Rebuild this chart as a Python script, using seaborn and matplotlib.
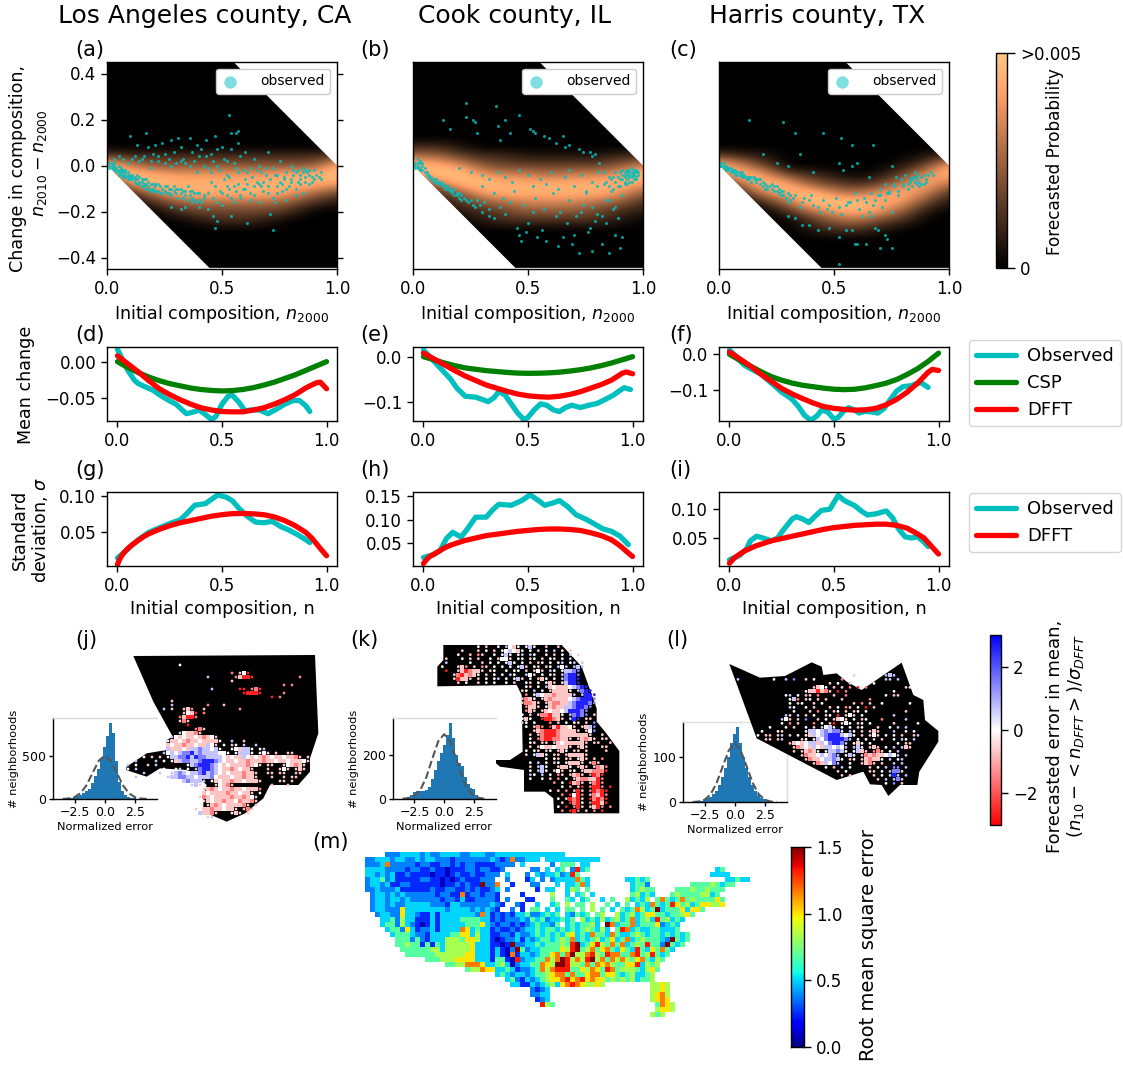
import numpy as np
import matplotlib
matplotlib.use('Agg')
import matplotlib.pyplot as plt
from matplotlib.cm import ScalarMappable
from matplotlib.colors import Normalize
from matplotlib.lines import Line2D
from matplotlib.patches import Polygon
import seaborn as sns

W, H = 1123, 1065

counties = ['Los Angeles county, CA', 'Cook county, IL', 'Harris county, TX']

# forecast density, digits 0-9 per column n = 0, 0.1 ... 1, rows from y = 0.08 going down in steps of 0.04
density_n = [0.0, 0.1, 0.2, 0.3, 0.4, 0.5, 0.6, 0.7, 0.8, 0.9, 1.0]
density_y = [.44, .40, .36, .32, .28, .24, .20, .16, .12, .08, .04, 0, -.04, -.08, -.12, -.16, -.20, -.24, -.28, -.32, -.36, -.40, -.44]
la_density = ['00000000000', '32222222223', '96444444448', '69877777889', '16988888887',
              '02588888753', '00245555421', '00023333200', '00001221000']
cook_density = ['22100000000', '55322111122', '98743333346', '69976656679', '25898888887',
                '02478888874', '01245666542', '00123444321', '00012222210']
harris_density = ['00000000000', '32100000012', '96300000138', '59732101378', '15984323685',
                  '02689657862', '00259998731', '00025787410', '00002453200', '00001221000']

# observed tracts, in percent
la_obs_x = [1, 2, 2, 3, 3, 4, 4, 5, 5, 6, 6, 7, 7, 8, 8, 9, 9, 10, 10, 11, 12, 12, 13, 14, 14, 15, 16, 16, 17, 18, 18, 19, 20, 20, 21, 22, 23, 24, 25, 26, 27, 28, 29, 30, 31, 32, 33, 34, 35, 36, 37, 38, 39, 40,
            10, 12, 13, 15, 17, 18, 19, 20, 21, 22, 24, 25, 27, 28, 29, 30, 31, 32, 33, 34, 36, 37, 38, 39, 40, 41, 42, 43, 43, 45, 45, 46, 47, 48, 49, 50, 51, 52, 53, 54, 54, 55, 56, 57, 57, 58, 59, 60, 62, 64, 66, 67, 70, 72, 75, 78, 80, 83, 85, 88, 90,
            28, 32, 34, 37, 40, 42, 44, 46, 47, 48, 50, 52, 53, 54, 55, 57, 58, 60, 61, 62, 64, 66, 68, 70, 71, 72, 73, 74, 76, 78, 80, 82, 84, 85, 86, 88, 90, 92,
            45, 47, 49, 51, 53, 55, 57, 59, 61, 63, 65, 67, 69, 71, 73, 75, 77, 79, 81, 83, 87, 89, 91, 93, 82, 84, 86]
la_obs_y = [0, -1, 1, -1, -2, -1, -3, -2, -4, -2, -4, -3, -5, -3, -5, -4, -6, -4, -6, -6, -5, -7, -6, -5, -8, -7, -6, -9, -8, -7, -9, -10, -8, -10, -9, -11, -9, -10, -11, -9, -12, -10, -11, -12, -10, -12, -11, -13, -9, -13, -11, -15, -12, -15,
            13, 4, 9, 3, 14, 8, 2, 5, 9, 2, 10, 5, 3, 11, 6, 1, 12, 8, 3, 1, 12, 6, 2, 9, 4, 7, 0, 4, 11, 5, -3, 2, 13, 7, -2, 8, 3, -4, 22, 7, 14, 1, 14, 15, 10, 4, -2, 6, -1, 3, 0, -3, 6, -1, 2, -3, 0, -2, -3, -4, -2,
            -18, -19, -18, -16, -18, -14, -19, -22, -27, -24, -17, -13, -10, -22, -16, -8, -14, -6, -25, -12, -9, -16, -7, -12, -21, -28, -16, -9, -11, -15, -7, -10, -6, -12, -5, -8, -6, -5,
            -7, -9, -11, -6, -5, -9, -3, -10, -8, -5, -7, -9, -4, -6, -4, -7, -5, -9, -4, -7, -3, -7, -4, -3, -3, -4, -2]
la_more = [(1, 1), (1, -1), (2, 0), (3, 0), (3, 1), (4, -2), (5, -3), (5, 0), (6, -3), (6, -1), (7, -4), (7, -2), (8, -4), (8, -2), (9, -3), (9, -5), (10, -5), (11, -5), (11, -4), (12, -6), (13, -8), (13, -4), (14, -7), (15, -6), (15, -9), (16, -8), (17, -6), (17, -10),
           (18, -10), (19, -8), (19, -11), (20, -11), (21, -11), (21, -8), (22, -8), (23, -12), (24, -12), (25, -9), (26, -12), (27, -10), (28, -13), (29, -9), (30, -10), (31, -14), (32, -10), (33, -14), (34, -11), (35, -15), (36, -11), (37, -14), (38, -12), (39, -16), (40, -12), (41, -16), (42, -13),
           (44, -12), (46, -14), (48, -16), (50, -12), (52, -9), (54, -14), (56, -11), (58, -13), (60, -10), (62, -15), (64, -13), (66, -8), (68, -11), (70, -9), (72, -14), (74, -12), (76, -8), (78, -10), (80, -6), (82, -13), (84, -8), (86, -7), (88, -2),
           (3, 3), (5, 4), (7, 3), (9, 1), (11, 3), (14, 2), (16, 4), (19, -1), (22, 4), (25, 1), (28, 0), (32, 2), (36, 0), (39, -3), (44, -1), (48, 0), (52, 2), (56, -1), (61, -3), (65, -2), (69, -1), (74, -4), (77, -6), (81, -2), (85, -1), (89, -5), (93, -6)]
cook_obs_x = [1, 1, 2, 2, 3, 3, 4, 5, 6, 7, 8, 9, 10, 11, 12, 13, 14, 15, 16, 17, 18, 19, 20, 21, 22, 24, 26, 28, 30, 33,
              13, 16, 23, 23, 26, 27, 28, 36, 37, 38, 40, 42, 46, 51, 52, 53, 57, 59, 62, 65, 66, 68, 72, 74, 77, 78, 79, 81,
              20, 25, 30, 33, 37, 40, 43, 46, 50, 52, 55, 58, 60, 63, 66, 68, 70, 73, 75, 78, 80, 83, 85,
              38, 40, 42, 45, 46, 47, 49, 50, 52, 54, 56, 58, 62, 63, 65, 67, 69, 70, 72, 73, 76, 78, 79, 82, 84, 85, 88, 90, 91,
              75, 78, 80, 82, 84, 85, 86, 87, 88, 89, 90, 91, 92, 92, 93, 93, 94, 94, 95, 95, 96, 96, 97, 97, 98]
cook_obs_y = [1, -1, 3, 0, 2, -1, 0, -3, -3, -4, -6, -7, -6, -7, -8, -9, -9, -10, -10, -11, -10, -13, -14, -15, -14, -16, -17, -15, -20, -19,
              20, 16, 27, 21, 20, 19, 14, 26, 17, 11, 20, 14, 22, 16, 15, 14, 13, 12, 10, 13, 8, 9, 7, 6, 6, 4, 5, 1,
              -1, -3, -4, -6, -3, -5, -7, -2, -4, -9, -6, -8, -3, -10, -5, -2, -9, -4, -11, -7, -3, -8, -5,
              -18, -21, -16, -27, -30, -33, -29, -25, -20, -31, -28, -33, -22, -35, -31, -25, -34, -30, -38, -20, -29, -37, -24, -34, -15, -38, -30, -36, -31,
              -12, -18, -9, -22, -7, -15, -11, -5, -18, -9, -6, -13, -4, -8, -3, -6, -2, -5, -3, -7, -4, -2, -6, -3, -4]
cook_more = [(1, 0), (2, 1), (2, -1), (3, 1), (3, -2), (4, -2), (4, 1), (5, -1), (6, -4), (7, -5), (8, -5), (9, -6), (10, -7), (11, -8), (12, -7), (13, -8), (14, -10), (15, -9), (16, -11), (17, -12), (18, -13), (19, -12), (20, -12), (21, -13), (23, -15), (25, -15), (27, -18), (29, -17), (31, -16), (33, -22), (35, -23),
             (30, -9), (35, -12), (39, -14), (44, -11), (48, -17), (53, -14), (57, -19), (61, -12), (64, -20), (68, -15), (71, -22), (74, -17), (77, -27), (80, -21), (84, -25), (87, -19), (89, -23),
             (83, -3), (85, -9), (86, -6), (87, -10), (88, -7), (88, -3), (89, -5), (90, -9), (90, -3), (91, -6), (91, -2), (92, -7), (92, -5), (93, -2), (93, -8), (94, -4), (94, -7), (95, -1), (95, -5), (96, -3), (96, -6), (97, -2), (97, -5), (98, -3), (94, -3), (93, -4), (95, -4), (92, -3), (96, -4), (91, -4)]
harris_obs_x = [1, 1, 2, 3, 3, 4, 5, 5, 6, 7, 8, 9, 10, 11, 12, 13, 14, 15, 16, 17, 18, 19, 20, 21, 22, 23, 24, 25, 26, 27, 28, 29, 30,
                13, 28, 33, 45, 53, 58, 67, 19, 35, 25, 30, 41, 52, 54, 58, 60, 65, 75,
                31, 33, 35, 37, 39, 41, 43, 45, 47, 49, 51, 53, 55, 57, 59, 61, 63, 65, 67, 69, 71, 73, 75,
                30, 33, 36, 39, 43, 48, 52, 55, 58, 60, 64, 66, 68, 69, 72, 73, 75, 70, 59, 52,
                70, 72, 74, 76, 77, 78, 79, 80, 81, 82, 83, 84, 84, 85, 85, 86, 86, 87, 88, 89, 90, 91, 92]
harris_obs_y = [1, 0, 0, -1, -2, -1, -2, -3, -2, -3, -3, -4, -4, -5, -6, -6, -5, -6, -7, -6, -8, -9, -8, -10, -9, -10, -11, -9, -12, -11, -13, -14, -16,
                20, 19, 14, 14, 12, 9, 9, 5, 5, 1, 0, -3, 1, -2, 0, 1, -5, 0,
                -15, -13, -18, -14, -15, -17, -18, -15, -19, -20, -14, -21, -17, -16, -12, -19, -14, -20, -17, -13, -18, -12, -20,
                -22, -23, -26, -26, -28, -27, -31, -28, -28, -34, -34, -22, -27, -28, -30, -32, -36, -36, -34, -43,
                -10, -8, -12, -9, -5, -11, -6, -8, -4, -10, -6, -5, -9, -7, -3, -8, -4, -7, -5, -8, -6, -4, -3]
harris_more = [(1, 0), (2, -1), (2, 1), (3, 0), (4, -2), (4, -1), (5, -1), (6, -3), (7, -2), (7, -4), (8, -4), (9, -3), (10, -3), (10, -5), (11, -4), (12, -5), (13, -5), (14, -7), (15, -5), (16, -6), (18, -6), (19, -7), (20, -10), (21, -9), (23, -8), (24, -9), (25, -11), (26, -10), (27, -13), (28, -11), (30, -12), (31, -13), (32, -14),
               (36, -16), (40, -13), (44, -20), (48, -17), (52, -18), (56, -16), (60, -15), (62, -22), (64, -16), (66, -12), (68, -15), (70, -13), (72, -15), (74, -11), (76, -8), (78, -13), (80, -9), (82, -8), (83, -7), (84, -6), (85, -5), (86, -6), (87, -9), (88, -8), (89, -4), (90, -7), (93, -4)]

# curves of rows 2 and 3
d_obs_x = [0, .02, .05, .08, .1, .13, .17, .2, .24, .28, .31, .33, .36, .39, .42, .45, .47, .5, .53, .55, .58, .61, .64, .68, .72, .76, .8, .84, .87, .9, .92]
d_obs_y = [.017, .005, -.012, -.025, -.03, -.034, -.039, -.045, -.052, -.058, -.066, -.071, -.069, -.066, -.072, -.079, -.075, -.058, -.047, -.046, -.055, -.067, -.066, -.066, -.071, -.065, -.058, -.053, -.053, -.06, -.068]
e_obs_x = [0, .03, .07, .1, .13, .16, .2, .25, .28, .31, .34, .36, .39, .42, .45, .48, .5, .53, .56, .59, .62, .65, .68, .71, .75, .79, .83, .87, .91, .94, .96, .99]
e_obs_y = [.015, 0, -.02, -.035, -.05, -.07, -.088, -.09, -.095, -.1, -.09, -.078, -.085, -.105, -.125, -.14, -.135, -.118, -.105, -.108, -.118, -.122, -.113, -.108, -.113, -.108, -.104, -.095, -.085, -.075, -.069, -.073]
f_obs_x = [0, .03, .07, .1, .15, .2, .25, .3, .33, .36, .39, .42, .44, .47, .5, .52, .55, .57, .6, .62, .65, .68, .71, .74, .77, .8, .83, .87, .9, .92, .95]
f_obs_y = [.012, -.005, -.03, -.04, -.055, -.08, -.105, -.125, -.145, -.17, -.183, -.17, -.155, -.16, -.18, -.175, -.155, -.148, -.155, -.163, -.158, -.16, -.163, -.15, -.125, -.102, -.09, -.087, -.08, -.08, -.092]
csp_x = [0, .05, .1, .15, .2, .25, .3, .35, .4, .45, .5, .55, .6, .65, .7, .75, .8, .85, .9, .95, 1]
d_csp = [0, -.008, -.015, -.021, -.026, -.03, -.033, -.036, -.038, -.0393, -.04, -.0395, -.038, -.0355, -.032, -.028, -.023, -.018, -.012, -.006, 0]
e_csp = [0, -.007, -.014, -.02, -.025, -.028, -.031, -.033, -.035, -.0365, -.037, -.0368, -.036, -.0345, -.032, -.029, -.025, -.02, -.014, -.007, 0]
f_csp = [0, -.017, -.033, -.048, -.062, -.072, -.08, -.086, -.09, -.094, -.097, -.098, -.097, -.093, -.087, -.08, -.07, -.056, -.04, -.02, .003]
dfft_mean_x = [0, .05, .1, .15, .2, .25, .3, .35, .4, .45, .5, .55, .6, .65, .7, .75, .8, .85, .9, .95, .97, 1]
d_dfft = [.008, -.003, -.014, -.026, -.037, -.045, -.052, -.058, -.063, -.066, -.068, -.0685, -.0685, -.066, -.063, -.058, -.052, -.045, -.036, -.029, -.028, -.037]
e_dfft = [.008, -.005, -.018, -.031, -.043, -.053, -.063, -.07, -.077, -.083, -.087, -.089, -.09, -.088, -.084, -.078, -.07, -.062, -.052, -.037, -.034, -.038]
f_dfft = [.006, -.013, -.033, -.055, -.075, -.095, -.11, -.123, -.135, -.145, -.15, -.153, -.155, -.154, -.15, -.14, -.125, -.105, -.08, -.05, -.042, -.045]

g_obs_x = [0, .05, .1, .15, .2, .25, .3, .33, .37, .42, .45, .48, .52, .55, .58, .62, .66, .7, .74, .78, .82, .86, .9, .92]
g_obs_y = [.015, .027, .04, .05, .056, .062, .067, .075, .087, .089, .095, .101, .098, .093, .083, .072, .064, .063, .065, .058, .053, .047, .04, .036]
h_obs_x = [0, .05, .08, .11, .14, .18, .21, .25, .3, .33, .36, .42, .47, .51, .55, .58, .62, .65, .69, .73, .78, .82, .86, .9, .94, .98]
h_obs_y = [.02, .026, .035, .06, .073, .063, .08, .105, .105, .12, .132, .13, .14, .152, .14, .13, .135, .14, .127, .11, .1, .09, .08, .075, .065, .047]
i_obs_x = [0, .05, .08, .1, .13, .16, .2, .23, .26, .3, .32, .35, .38, .41, .44, .48, .5, .52, .55, .6, .63, .66, .7, .75, .78, .81, .84, .87, .9, .93, .95]
i_obs_y = [.012, .02, .03, .045, .053, .05, .045, .05, .065, .083, .087, .083, .077, .088, .098, .1, .112, .124, .115, .106, .097, .09, .092, .097, .085, .065, .052, .05, .052, .043, .035]
std_dfft_x = [0, .01, .02, .03, .05, .07, .1, .125, .15, .2, .25, .3, .35, .4, .45, .5, .55, .6, .65, .7, .75, .8, .85, .9, .93, .95, .97, 1]
g_dfft = [.006, .013, .018, .022, .028, .033, .039, .044, .048, .054, .059, .063, .066, .069, .072, .074, .0755, .0757, .0752, .074, .071, .066, .059, .05, .042, .035, .028, .018]
h_dfft = [.007, .013, .018, .022, .027, .032, .04, .045, .049, .056, .061, .066, .069, .072, .075, .077, .079, .08, .08, .079, .077, .072, .066, .057, .048, .041, .033, .022]
i_dfft = [.006, .01, .014, .017, .022, .027, .032, .036, .039, .045, .049, .053, .057, .061, .065, .068, .07, .072, .073, .074, .074, .072, .067, .057, .05, .042, .034, .022]

# normalized error histograms and the dashed forecast curve
hist_x = [-4, -3.75, -3.5, -3.25, -3, -2.75, -2.5, -2.25, -2, -1.75, -1.5, -1.25, -1, -.75, -.5, -.25, 0, .25, .5, .75, 1, 1.25, 1.5, 1.75, 2, 2.25, 2.5, 2.75, 3, 3.25, 3.5, 3.75, 4]
j_hist = [0, 1, 3, 5, 8, 12, 20, 35, 50, 70, 90, 120, 190, 260, 350, 470, 600, 730, 880, 760, 440, 200, 90, 45, 25, 15, 8, 5, 3, 2, 1, 0, 0]
k_hist = [0, 0, 1, 3, 8, 20, 34, 35, 36, 38, 42, 55, 90, 135, 175, 210, 250, 295, 350, 280, 200, 165, 150, 100, 68, 52, 45, 20, 8, 3, 1, 0, 0]
l_hist = [0, 0, 0, 0, 1, 3, 6, 8, 12, 18, 25, 38, 55, 75, 100, 130, 150, 165, 130, 100, 75, 55, 38, 25, 15, 9, 7, 4, 2, 1, 0, 0, 0]
dash_x = [-3.5, -3, -2.5, -2, -1.5, -1, -.5, 0, .5, 1, 1.5, 2, 2.5, 3, 3.5]
j_dash = [1, 6, 22, 68, 162, 303, 441, 500, 441, 303, 162, 68, 22, 6, 1]
k_dash = [1, 4, 14, 42, 100, 185, 265, 298, 265, 185, 100, 42, 14, 4, 1]
l_dash = [0, 1, 5, 17, 42, 78, 113, 130, 113, 78, 42, 17, 5, 1, 0]

# county outlines
la_outline_x = [400, 945, 955, 930, 930, 895, 810, 790, 735, 680, 610, 610, 620, 590, 560, 480, 440, 378, 380, 440, 500, 500, 518, 460]
la_outline_y = [93, 90, 325, 400, 440, 480, 480, 520, 565, 590, 560, 520, 480, 450, 435, 430, 455, 435, 425, 385, 375, 345, 335, 230]
cook_outline_x = [310, 665, 725, 770, 770, 795, 838, 838, 642, 640, 615, 552, 552, 480, 468, 468, 510, 548, 545, 530, 292, 292, 310]
cook_outline_y = [60, 60, 125, 250, 290, 320, 378, 565, 565, 520, 500, 500, 435, 425, 415, 405, 405, 380, 210, 180, 184, 125, 105]
harris_outline_x = [298, 390, 465, 545, 575, 580, 620, 650, 695, 815, 850, 880, 885, 925, 925, 868, 862, 810, 775, 755, 720, 700, 620, 380]
harris_outline_y = [117, 158, 153, 112, 125, 150, 145, 170, 195, 113, 210, 225, 285, 318, 350, 440, 480, 480, 513, 480, 478, 440, 465, 340]

# forecast error per grid cell: r/p/k red to pale, w white, l/m/b pale to blue
error_codes = {'r': -2.6, 'p': -1.5, 'k': -0.7, 'w': 0.0, 'l': 0.7, 'm': 1.5, 'b': 2.6}
la_rows = ['', '', '..............w', '', '...........................p.kwr',
           '.....................l......pkrrr...........p', '...........................k',
           '........................................p.p', '......................l......rr.ppr',
           '..............................rrrrr.....p', '.....................................r.p',
           '............k', '............l........p...k', '..........l.k..kkp..k........p',
           '...............kwkr.p', '..............pkrrp', '..............kpk', '................r',
           '..................ppk', '..............lwkkpk', '............lwkwkkwkpkwk',
           '...........wkkwkpkkwkkkkw..l..k', '..........wkwkkpkkwkklwk.w.kw.l..l',
           '..........wlkkkwkllmllwlw..wwkllw.wl', '..........lwlwlmmblmllllwww.wlllw.wwk.k..kk',
           '.....w.k.k.wllmmblbmmllllwkwkklwkwkpkwkkwkkpk.k', '...l....l.w.wklmmllmbbbmlwkkwkkpkkkpkkwkkwkkkwk',
           '.l.w..k.l.......wlmbbbmlwkwkkkkpkwk.kk..kwkpkk', '.w.l......w..wl.w.lmbbmlwkkpkwkkk...k..kwk.kkk',
           '.....l...lw.llmlwllmblmlwkwkkkpkkk..kk.kk..kk', '...l.....w.lllmmllwlllmwkkkwkkpkkk...k..k.kk',
           '..............wlmllll.wkwkkpkkwkkkk....kk.k', '.................llk...kwkpk.........k...k',
           '.................ww.kkpkwkkpkkwkkkp', '...................wkwkkkkpkkwkkk.w',
           '...................kpkwkkkkpkkpkwk', '....................kkwkkpkkwpkkpk',
           '...................w.kkpkwkkkkpk.k', '..................kwkkpkkwkkk.kpk',
           '..................wlkkpk...wkk.k', '...................w.kl']
cook_rows = ['..........w.k..w.lwkw.wlw..k..k.w', '......k...k.w.k.wwlwkw.w.k.w.l.w.k', '.....w..k.pk..w.wlw.wl.lw..w.k.w.l.k',
             '..k...w.k.k..w.kwwk.ww.kw.k.wk.w.l.w', 'w.l.....w..k.w.w.wlw.w.k.kw.w.wl.wl.l', '.w...kkp.k.pk.w.w.w.wlk.wk.kw.lwl.lll',
             '..r..kkrpkkk.kw..w.ww.k.kwk.lw.wllmm', '....kprkpkw.k.w.w.lw..lwk.w.wk.lmbbm', '....krkkk.k.w.wl.w.wlk.w.kkw.w.lmbbb',
             '.....k.w..k.w.w..w.k..wk.w.wkk.wlbbb', '......................wk.w.lkwkkkwlmbb', '.....................kw.l.w.kkkkkw.lmbb',
             '......................p.wlwkkpkkkkl.lbbb', '.....................kpkw.kkpkkkkwlmbbbm', '.....................kppkk.kkppkklmbbbmm',
             '......................pkkk.wkpkkllmbbmm.', '......................pkk.kkwkkwlbbbmm..', '.....................w.k.kpprkkw.lmbmm.k.',
             '.....................wkw..rrrpkk.lbb.kk.', '.....................lw.w...p.k.w.wk.k.m', '......................w.kpp.rkrkkwk.kklm.',
             '........................kkprrrpkkkkk.kwm', '.......................k.kprrrpkkkkkkkk..k', '.......................w.pprrppkkk.kkpkk.kk',
             '.......................wk.kk.kkwkkkkkk.kk..k', '.......................k.kwkkwkkkk.kkk...kk', '......................w.wk.kw.kkw.kk.k....k',
             '...............w......k.wlkw.kk.kkkkkk...', '...........................w.wk.kk.wkk.k.p', '.......................w.l.w.kw.wkkkk.kpk.',
             '.......................k.llw..kkkw.kkk.kpkp', '.......................w.llw.kwk.kw.kkkpppr', '.......................lw.l.w.pk.kkpk.prpr',
             '.......................w..w.k.p.w.kkppkkrp', '.............................p.w.rkpk.kprp', '...............................w.p.kr.prrp.r',
             '............................w.k.p.krk.prprr', '...............................p.rwrp.kpkrp', '..............................w.krprk.rprpr',
             '...............................k.rprw.prrkr', '..............................w.r.prk.kkrp.p', '...............................p.rrp.k.p.r']
harris_rows = ['', '', '.......................................w', '...............................k.......lll',
               '..l........w..l.m..k.w......p.w........ll.l', '.........................k.w..k.....w', '.....................kkww.k.k.p.r.p.........kw',
               '...................wkkrkpk.r.p...........w', '..............wl.w.kk.p...k..p.........w.kk', '...............wlp.kw.k.k...k......p',
               '...............w.kw..k.w.......k.p.k..w......w', '...............lw..w.k...k.w.pk.w.r.k.......', '................w...k.p.w.kw.k.kw.w.........k',
               '..............lk.l.k.w..kw.r.kwk.w.......l', '.............lwk.k.m..k.w.kkwk.w.kw...p.....l', '.............w.p.k...p.w.kr.kww.kw.w.....k.....w',
               '..........w...w.k..w.k.lwlw.w.w.kw...k..w.l.l.', '.....w..w...wk.....wllwlmlmmw.lw.k.kkk...l..w.w', '.......w.kk.kl.k.w.wklwlmbbblwlw.k.kwk.w.w.k..kl',
               '.........kk.kl....kw.wlwmbbbbml.w.w.k.k..w.lw.l', '...............kkwkwllklwmbbml.wkw.w......w.kk', '................kpkwklwkllwlwl.llw.kkk.w.l.lkk',
               '................k.kkpkw.wllmlw.wlkk.ppk.w.l.', '..................kpkkwlwlml.wlw.kpkpkkwlwl.l', '...................kpkkwllmlw.kw.kkpkkw.l.wl',
               '.....................kpklwml..w..kkpk.k..l.l', '........................w.k.l.w....k.w.l.mm.l', '...........................k.w.....kk.w.lmmk',
               '............................k.k.....k.w.lbl.l', '.....................................k.l.lmk', '.......................................w.m.k']

# rmse per cell over the country, each digit is an index into us_levels, dots have no data
us_levels = [0.08, 0.25, 0.38, 0.5, 0.68, 0.83, 1.0, 1.17, 1.33, 1.5]
us_rows = ['....2223333232233332233322' '33333333333333',
           '22333233223233222122222223' '212722333.33333333333',
           '22237222221221122121221111' '2222.3.....2.444.33',
           '33332222122112110111221221' '12.....22.3.34.2834' '.........................34',
           '33232311211110110121121122' '2.3...2.323342384' '..........................3333',
           '23342311111221101012111222' '..2...13.2.23333743.......' '33434...............33433',
           '23323112211111101121211922' '7..1...22...3.33473.......' '.3442........444454344',
           '22322231111112112211212112' '3.2.....1.33..354.4.......' '.34544....4445445444',
           '.2332323222222122117122122' '1....1.....5..3.34.3......' '.45343...4544445534',
           '.2332332322222212213112222' '1.2...11...4..43.34..3.4..' '53435.47434745444464',
           '.2332322333332221332222223' '21..21..3..34.5.44.5..4.3.' '4.343743486453466556',
           '.2332226333333332333323232' '1..2.1.44.3.3.44.4.5.4.3.4' '3475349344463664',
           '..233226332113133333332731' '2121334223434.32434.45..53' '45346644344564',
           '...33425331113133334444331' '2122232434233434.534353453' '473453845343',
           '...34425321013133333444632' '1221212343324.3434453.9734' '47344462343',
           '....3442631223133337634331' '21121233434434343454353.48' '73433443334',
           '.....344432213333446635331' '12213223434343563437443743' '3454344343434',
           '......44424213335554665331' '01223132344345473434534634' '7345444329434',
           '......44544141435555563331' '10192233434445489346854747' '345484429434',
           '.......4444445535555563331' '31029423344446589457467436' '4384364743',
           '........444444555555663331' '31071332344674795578548774' '478458434',
           '............44455566663331' '44108233447579857589574757' '54674354',
           '................4455777633' '45302334476599855474767544' '6683545',
           '....................455766' '33431223475788844657648745' '5543564',
           '..........................' '34323323445677474467746643' '453345',
           '............................' '342132345667867867664545' '453445',
           '.............................' '3311323453678765565' '.........' '5565',
           '.................................' '2123' '....................' '5565',
           '.................................' '2233' '....................' '5675',
           '..................................' '123' '....................' '5676',
           '...................................' '854' '....................' '4765',
           '..........................................................' '5665',
           '.........................................................' '545']

sns.set_style('ticks')
plt.rcParams['font.family'] = ['DejaVu Sans']
plt.rcParams['mathtext.fontset'] = 'dejavusans'
plt.rcParams['axes.edgecolor'] = 'black'
plt.rcParams['axes.linewidth'] = 1.0
plt.rcParams['xtick.color'] = 'black'
plt.rcParams['ytick.color'] = 'black'
plt.rcParams['xtick.major.size'] = 4.3
plt.rcParams['ytick.major.size'] = 4.3
plt.rcParams['xtick.major.width'] = 1.0
plt.rcParams['ytick.major.width'] = 1.0
plt.rcParams['text.color'] = 'black'
plt.rcParams['axes.labelcolor'] = 'black'

fig = plt.figure(figsize=(W / 100, H / 100), dpi=100)


def px_axes(left, top, right, bottom):
    return fig.add_axes([left / W, 1 - bottom / H, (right - left) / W, (bottom - top) / H])


def px_text(x, y, s, **kw):
    fig.text(x / W, 1 - y / H, s, va='center', **kw)


# row 1: forecast density with observed tracts
lefts = [107, 413, 719]
label_x = [75, 360, 669]
density_sets = [(la_density, la_obs_x, la_obs_y, la_more),
                (cook_density, cook_obs_x, cook_obs_y, cook_more),
                (harris_density, harris_obs_x, harris_obs_y, harris_more)]
for i, (dens, obs_x, obs_y, more) in enumerate(density_sets):
    ax = px_axes(lefts[i], 62, lefts[i] + 230, 269)
    grid = np.zeros((len(density_y), len(density_n)))
    first_row = density_y.index(.08)
    for r, row in enumerate(dens):
        grid[first_row + r] = [int(c) / 9 for c in row]
    image = ax.imshow(grid, cmap='copper', vmin=0, vmax=1, extent=(-.05, 1.05, -.46, .46), aspect='auto',
                      interpolation='bicubic', zorder=1)
    domain = Polygon([(0, 0), (0, .45), (.55, .45), (1, 0), (1, -.445), (.445, -.445)], transform=ax.transData)
    image.set_clip_path(domain)
    xs = (np.array(obs_x + [p[0] for p in more])) / 100
    ys = (np.array(obs_y + [p[1] for p in more])) / 100
    sns.scatterplot(x=xs, y=ys, color='c', s=5, alpha=0.8, linewidth=0, label='observed', ax=ax, zorder=2)
    ax.set_xlim(0, 1)
    ax.set_ylim(-0.45, 0.45)
    ax.set_xticks([0, 0.5, 1])
    ax.set_xticklabels(['0.0', '0.5', '1.0'])
    ax.tick_params(labelsize=12)
    ax.set_xlabel('Initial composition, $n_{2000}$', fontsize=12.6)
    ax.set_ylabel('')
    if i == 0:
        ax.set_yticks([-0.4, -0.2, 0, 0.2, 0.4])
        ax.tick_params(axis='y', right=True)
    else:
        ax.set_yticks([])
    leg = ax.legend(loc='upper right', fontsize=10, markerscale=4, bbox_to_anchor=(0.97, 0.968), borderaxespad=0,
                    handletextpad=1.6, handlelength=1.2, framealpha=1, edgecolor='#cccccc')
    leg.legend_handles[0].set_alpha(0.5)
    px_text(205 + [0, 310, 612][i], 16, counties[i], ha='center', fontsize=18)
    px_text(label_x[i], 50, '(' + 'abc'[i] + ')', fontsize=15)

px_text(18, 168, 'Change in composition,', rotation=90, ha='center', fontsize=12.6)
px_text(40, 163, '$n_{2010} - n_{2000}$', rotation=90, ha='center', fontsize=12.6)

cax = px_axes(996, 53, 1007, 268)
cbar = fig.colorbar(ScalarMappable(Normalize(0, 1), 'copper'), cax=cax)
cbar.set_ticks([0, 1])
cbar.set_ticklabels(['0', '>0.005'])
cbar.ax.tick_params(labelsize=12, length=6)
px_text(1055, 162, 'Forecasted Probability', rotation=90, ha='center', fontsize=12.2)

# rows 2 and 3: mean change and standard deviation
mean_sets = [(d_obs_x, d_obs_y, d_csp, d_dfft, (-0.081, 0.02), [-0.05, 0], ['\u22120.05', '0.00']),
             (e_obs_x, e_obs_y, e_csp, e_dfft, (-0.143, 0.0215), [-0.1, 0], ['\u22120.1', '0.0']),
             (f_obs_x, f_obs_y, f_csp, f_dfft, (-0.185, 0.02), [-0.1, 0], ['\u22120.1', '0.0'])]
for i, (obs_x, obs_y, csp, dfft, lims, yt, ytl) in enumerate(mean_sets):
    ax = px_axes(lefts[i], 347, lefts[i] + 230, 421)
    sns.lineplot(x=obs_x, y=obs_y, color='c', lw=3.8, ax=ax, sort=False, estimator=None)
    sns.lineplot(x=csp_x, y=csp, color='g', lw=3.8, ax=ax, sort=False, estimator=None)
    sns.lineplot(x=dfft_mean_x, y=dfft, color='r', lw=3.8, ax=ax, sort=False, estimator=None)
    ax.set_xlim(-0.05, 1.05)
    ax.set_ylim(*lims)
    ax.set_xticks([0, 0.5, 1])
    ax.set_xticklabels(['0.0', '0.5', '1.0'])
    ax.set_yticks(yt)
    ax.set_yticklabels(ytl)
    ax.tick_params(labelsize=12)
    px_text(label_x[i], 335, '(' + 'def'[i] + ')', fontsize=15)

std_sets = [(g_obs_x, g_obs_y, g_dfft, (0.004, 0.105), [0.05, 0.10], ['0.05', '0.10']),
            (h_obs_x, h_obs_y, h_dfft, (0.002, 0.158), [0.05, 0.10, 0.15], ['0.05', '0.10', '0.15']),
            (i_obs_x, i_obs_y, i_dfft, (0.0012, 0.130), [0.05, 0.10], ['0.05', '0.10'])]
for i, (obs_x, obs_y, dfft, lims, yt, ytl) in enumerate(std_sets):
    ax = px_axes(lefts[i], 492, lefts[i] + 230, 566)
    sns.lineplot(x=obs_x, y=obs_y, color='c', lw=3.8, ax=ax, sort=False, estimator=None)
    sns.lineplot(x=std_dfft_x, y=dfft, color='r', lw=3.8, ax=ax, sort=False, estimator=None)
    ax.set_xlim(-0.05, 1.05)
    ax.set_ylim(*lims)
    ax.set_xticks([0, 0.5, 1])
    ax.set_xticklabels(['0.0', '0.5', '1.0'])
    ax.set_yticks(yt)
    ax.set_yticklabels(ytl)
    ax.tick_params(labelsize=12)
    ax.set_xlabel('Initial composition, n', fontsize=12.7)
    px_text(label_x[i], 470, '(' + 'ghi'[i] + ')', fontsize=15)

px_text(26, 385, 'Mean change', rotation=90, ha='center', fontsize=12.6)
px_text(20, 530, 'Standard', rotation=90, ha='center', fontsize=12.6)
px_text(40, 530, 'deviation, $\\sigma$', rotation=90, ha='center', fontsize=12.6)

line_obs = Line2D([], [], color='c', lw=3.8, label='Observed')
line_csp = Line2D([], [], color='g', lw=3.8, label='CSP')
line_dfft = Line2D([], [], color='r', lw=3.8, label='DFFT')
fig.legend(handles=[line_obs, line_csp, line_dfft], loc='upper left', bbox_to_anchor=(969 / W, 1 - 340 / H), fontsize=13,
           borderaxespad=0, handlelength=2.2, handletextpad=0.6)
fig.legend(handles=[line_obs, line_dfft], loc='upper left', bbox_to_anchor=(969 / W, 1 - 493 / H), fontsize=13,
           borderaxespad=0, handlelength=2.2, handletextpad=0.6)

# row 4: histograms and county maps
inset_sets = [((53, 718, 157, 799), j_hist, j_dash, 935, [0, 500]),
              ((393, 718, 496, 799), k_hist, k_dash, 372, [0, 200]),
              ((683, 722, 787, 802), l_hist, l_dash, 176, [0, 100])]
for i, (box, counts, dash, top, yt) in enumerate(inset_sets):
    ax = px_axes(*box)
    sns.histplot(x=hist_x, weights=counts, binwidth=0.25, binrange=(-4.125, 4.125), color='tab:blue', alpha=1, linewidth=0, ax=ax)
    sns.lineplot(x=dash_x, y=dash, color='#555555', lw=1.5, ls='--', ax=ax, estimator=None)
    ax.set_xlim(-4.3, 4.35)
    ax.set_ylim(0, top)
    ax.set_xticks([-2.5, 0, 2.5])
    ax.set_xticklabels(['\u22122.5', '0.0', '2.5'])
    ax.set_yticks(yt)
    ax.tick_params(labelsize=9, length=3, pad=2)
    ax.set_xlabel('Normalized error', fontsize=8.2, labelpad=2)
    ax.set_ylabel('# neighborhoods', fontsize=8.2, labelpad=2)
    ax.spines['top'].set_color('#dddddd')
    ax.spines['right'].set_color('#dddddd')
    ax.spines['right'].set_visible(i == 2)

map_sets = [((0, 625, 340, 845), 1020, la_outline_x, la_outline_y, la_rows, 372, 96),
            ((340, 625, 640, 845), 900, cook_outline_x, cook_outline_y, cook_rows, 295, 65),
            ((630, 625, 1123, 845), 1479, harris_outline_x, harris_outline_y, harris_rows, 300, 115)]
for box, span, out_x, out_y, rows, x0, y0 in map_sets:
    ax = px_axes(*box)
    ax.patch.set_alpha(0)
    ax.fill(out_x, out_y, color='black', lw=0, zorder=1)
    solid_x, solid_y, solid_v = [], [], []
    lone_x, lone_y, lone_v = [], [], []
    for r, row in enumerate(rows):
        padded = '.' + row + '.'
        for c, code in enumerate(row):
            if code not in error_codes:
                continue
            # cells inside a run fill the block, lone cells stay small dots
            if padded[c] in error_codes and padded[c + 2] in error_codes:
                solid_x.append(x0 + 12 * c)
                solid_y.append(y0 + 12 * r)
                solid_v.append(error_codes[code])
            else:
                lone_x.append(x0 + 12 * c)
                lone_y.append(y0 + 12 * r)
                lone_v.append(error_codes[code])
    sns.scatterplot(x=solid_x, y=solid_y, hue=solid_v, palette='bwr_r', hue_norm=(-3, 3), s=8, marker='s', linewidth=0,
                    legend=False, ax=ax, zorder=2)
    sns.scatterplot(x=lone_x, y=lone_y, hue=lone_v, palette='bwr_r', hue_norm=(-3, 3), s=4, linewidth=0,
                    legend=False, ax=ax, zorder=3)
    ax.set_xlim(0, span)
    ax.set_ylim(660, 0)
    ax.axis('off')

for x, lab in zip([75, 350, 666], 'jkl'):
    px_text(x, 640, '(' + lab + ')', fontsize=15)

cax = px_axes(990, 635, 1001, 825)
cbar = fig.colorbar(ScalarMappable(Normalize(-3, 3), 'bwr_r'), cax=cax)
cbar.set_ticks([-2, 0, 2])
cbar.ax.tick_params(labelsize=12, length=5)
px_text(1055, 736, 'Forecasted error in mean,', rotation=90, ha='center', fontsize=13)
px_text(1076, 736, '$(n_{10} - < n_{DFFT} >)/\\sigma_{DFFT}$', rotation=90, ha='center', fontsize=13)

# bottom: national map
px_text(312, 842, '(m)', fontsize=15)
n_cols = max(len(r) for r in us_rows)
us_grid = np.array([[us_levels[int(c)] if c.isdigit() else np.nan for c in r.ljust(n_cols, '.')] for r in us_rows])
ax = px_axes(365, 852, 365 + 5 * n_cols, 852 + 5 * len(us_rows))
cax = px_axes(791, 847, 804, 1047)
sns.heatmap(us_grid, cmap='jet', vmin=0, vmax=1.5, ax=ax, cbar_ax=cax, xticklabels=False, yticklabels=False)
ax.tick_params(length=0)
cax.set_yticks([0, 0.5, 1, 1.5])
cax.set_yticklabels(['0.0', '0.5', '1.0', '1.5'])
cax.tick_params(labelsize=12, length=5)
for spine in cax.spines.values():
    spine.set_visible(True)
    spine.set_color('black')
px_text(868, 945, 'Root mean square error', rotation=90, ha='center', fontsize=14)

fig.savefig('out.png', dpi=100)
